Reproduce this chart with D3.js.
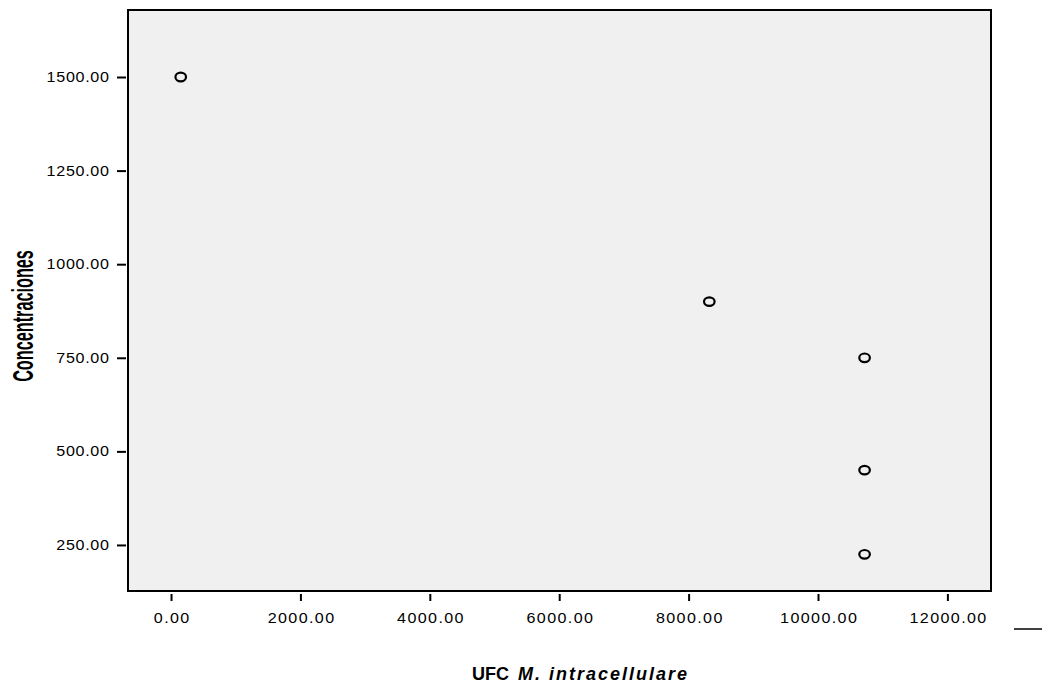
<!DOCTYPE html>
<html><head><meta charset="utf-8">
<script src="https://cdn.jsdelivr.net/npm/d3@7/dist/d3.min.js"></script>
<style>
body{margin:0;background:#fff;}
svg{display:block;}
</style></head><body>
<svg id="c" width="1042" height="692"></svg>
<script>
const ufc = [150, 8320, 10720, 10720, 10720];
const conc = [1500, 900, 750, 450, 225];
const xTicks = [0, 2000, 4000, 6000, 8000, 10000, 12000];
const yTicks = [250, 500, 750, 1000, 1250, 1500];
const xLabelA = "UFC ";
const xLabelB = "M. intracellulare";
const yLabel = "Concentraciones";

const svg = d3.select("#c");
const L = 128, R = 991, T = 10, B = 591;
const x = d3.scaleLinear().domain([-665, 12674]).range([L, R]);
const y = d3.scaleLinear().domain([127, 1679]).range([B, T]);

svg.append("rect").attr("x", L).attr("y", T).attr("width", R - L).attr("height", B - T)
  .attr("fill", "#f0f0f0").attr("stroke", "#000").attr("stroke-width", 2);

const SX = 1.15;
const fmt = d3.format(".2f");
const xAxis = d3.axisBottom(x).tickValues(xTicks).tickFormat(fmt).tickSize(7).tickPadding(12);
const gx = svg.append("g").attr("transform", `translate(0,${B + 3})`).call(xAxis);
gx.select(".domain").remove();
gx.selectAll(".tick line").attr("stroke", "#000").attr("stroke-width", 2);
gx.selectAll("text").attr("font-family", "Liberation Sans, Arial, sans-serif").attr("font-size", 14)
  .attr("letter-spacing", "1.2px").attr("dx", "0.6px").attr("transform", `scale(${SX},1)`).attr("fill", "#000");

const yAxis = d3.axisLeft(y).tickValues(yTicks).tickFormat(fmt).tickSize(9).tickPadding(8);
const gy = svg.append("g").attr("transform", `translate(${L - 2},0)`).call(yAxis);
gy.select(".domain").remove();
gy.selectAll(".tick line").attr("stroke", "#000").attr("stroke-width", 2);
gy.selectAll("text").attr("font-family", "Liberation Sans, Arial, sans-serif").attr("font-size", 14)
  .attr("letter-spacing", "0.6px").attr("x", -(17 - 0.6) / SX).attr("transform", `scale(${SX},1)`).attr("fill", "#000");

svg.append("g").selectAll("ellipse").data(ufc.map((d, i) => [d, conc[i]])).join("ellipse")
  .attr("cx", d => x(d[0])).attr("cy", d => y(d[1]))
  .attr("rx", 5.3).attr("ry", 4.3)
  .attr("fill", "none").attr("stroke", "#000").attr("stroke-width", 2.2);

const xl = svg.append("text").attr("x", 472).attr("y", 680).attr("text-anchor", "start")
  .attr("font-family", "Liberation Sans, Arial, sans-serif").attr("font-size", 18)
  .attr("font-weight", "bold").attr("fill", "#000");
xl.append("tspan").text(xLabelA);
xl.append("tspan").attr("x", 518).attr("font-style", "italic").attr("letter-spacing", "2px").text(xLabelB);

svg.append("text").attr("transform", "translate(33,316) rotate(-90) scale(0.56,1)").attr("text-anchor", "middle")
  .attr("font-family", "Liberation Sans, Arial, sans-serif").attr("font-size", 29)
  .attr("font-weight", "bold").attr("fill", "#000").text(yLabel);

svg.append("line").attr("x1", 1014).attr("x2", 1042).attr("y1", 629).attr("y2", 629)
  .attr("stroke", "#000").attr("stroke-width", 1.5);
</script></body></html>
